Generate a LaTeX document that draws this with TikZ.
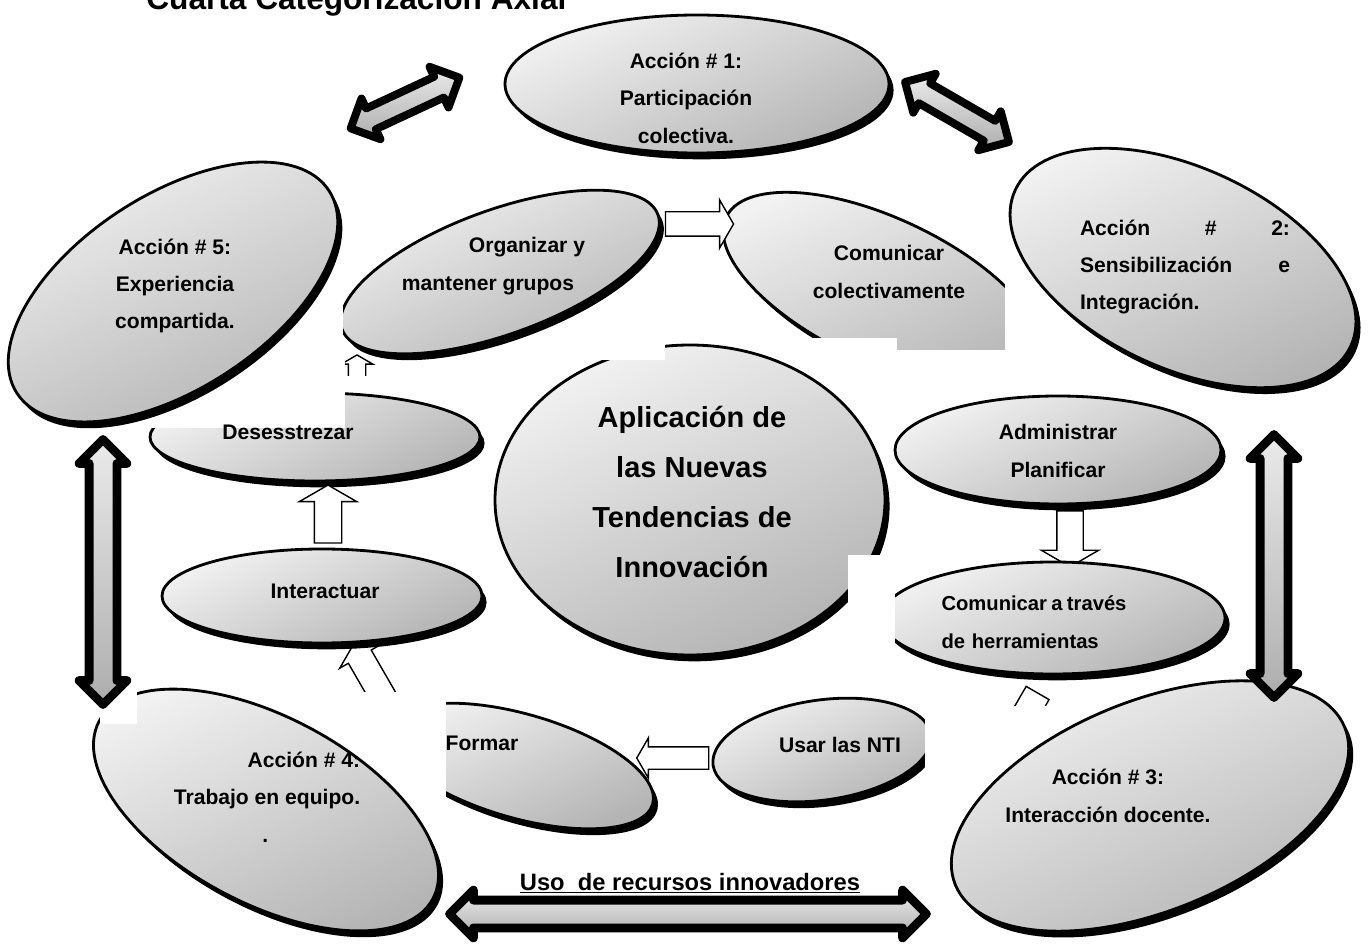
\documentclass[tikz,border=0pt]{standalone}
\usepackage{fontspec}
\setmainfont{Liberation Sans}
\usetikzlibrary{shapes.geometric,shapes.arrows,shadows}
\definecolor{lg}{HTML}{F2F2F2}
\definecolor{dg}{HTML}{B4B4B4}
\tikzset{
  oval/.style={ellipse, draw=black, line width=1.6pt, inner sep=0pt, outer sep=0pt,
    top color=lg, bottom color=dg, shading angle=25,
    drop shadow={shadow xshift=2.6pt, shadow yshift=-3.6pt, opacity=1, fill=black}},
  txt/.style={font=\bfseries\fontsize{12}{21.3}\selectfont, align=center, inner sep=0pt},
  bigtxt/.style={font=\bfseries\fontsize{16.5}{28.4}\selectfont, align=center, inner sep=0pt},
  harr/.style={single arrow, draw=black, fill=white, line width=0.8pt, inner xsep=0pt,
    outer sep=0pt, minimum width=0pt, single arrow tip angle=120},
  darr/.style={double arrow, draw=black, line width=5pt, line join=round, inner xsep=0pt,
    outer sep=0pt, minimum width=0pt, top color=black!8, bottom color=black!32},
  occl/.style={fill=white, draw=none}
}
\begin{document}
\begin{tikzpicture}[x=0.2mm,y=0.2mm]
\useasboundingbox (0,0) rectangle (1368,-944);

% title (cut by the top edge)
\node[anchor=base west, inner sep=0pt, font=\bfseries\fontsize{18}{20}\selectfont] (title) at (146,-10) {Cuarta Categorización Axial};

% Accion 1
\node[oval, minimum width=76.8mm, minimum height=27.6mm] (a1) at (697,-84) {};

% Comunicar colectivamente
\node[oval, minimum width=68.8mm, minimum height=28.8mm, rotate=-25] (cc) at (882,-290) {};
\path[occl] (665,-338) rectangle (897,-400);
\path[occl] (897,-350) rectangle (1005,-400);
\path[occl] (1005,-185) rectangle (1060,-400);

% central circle
\node[oval, minimum width=78mm, minimum height=62mm] (c) at (690,-500) {};
\path[occl] (486,-326) rectangle (665,-360);

% Organizar y mantener grupos
\node[oval, minimum width=67.2mm, minimum height=24.8mm, rotate=20] (og) at (500,-272) {};
\path[occl] (290,-186) rectangle (343,-362);

\node[harr, inner ysep=2.3mm, minimum height=13.6mm, single arrow head extend=2.4mm] (aoc) at (696,-224) {};

% Desesstrezar
\node[harr, inner ysep=1.6mm, minimum height=9mm, single arrow head extend=1.4mm, rotate=90] (ado) at (357,-380) {};
\path[occl] (338,-376) rectangle (378,-400);
\node[oval, minimum width=66mm, minimum height=17.6mm] (de) at (315,-437) {};
\path[occl] (135,-346) rectangle (345,-428);

% Accion 5
\node[oval, minimum width=74.4mm, minimum height=38.8mm, rotate=33] (a5) at (173,-292) {};

% Interactuar
\node[harr, inner ysep=2.5mm, minimum height=16mm, single arrow head extend=2mm, rotate=120] (afi) at (375,-683) {};
\node[oval, minimum width=64mm, minimum height=18.8mm] (in) at (322,-596) {};
\node[harr, inner ysep=2.6mm, minimum height=11.6mm, single arrow head extend=3mm, rotate=90] (aid) at (328,-518) {};

% Formar, Usar las NTI
\node[oval, minimum width=55.2mm, minimum height=20.8mm, rotate=-16] (fo) at (520,-766) {};
\node[oval, minimum width=44mm, minimum height=20mm, rotate=8] (nt) at (822,-750) {};
\node[harr, inner ysep=2.1mm, minimum height=14.4mm, single arrow head extend=1.8mm, rotate=180] (anf) at (676,-758) {};

% Administrar / Comunicar a traves
\node[oval, minimum width=65.2mm, minimum height=21.6mm] (ad) at (1058,-450) {};
\node[harr, inner ysep=2.5mm, minimum height=11.2mm, single arrow head extend=3.1mm, rotate=-90] (aac) at (1070,-535) {};
\node[harr, inner ysep=2.5mm, minimum height=14mm, single arrow head extend=2mm, rotate=-120] (acn) at (1022,-720) {};
\node[oval, minimum width=68.8mm, minimum height=22.4mm] (ct) at (1053,-618) {};
\path[occl] (848,-555) rectangle (895,-652);
\path[occl] (925,-706) rectangle (1065,-815);

% Accion 3, Accion 2
\node[oval, minimum width=84mm, minimum height=42mm, rotate=22] (a3) at (1150,-806) {};
\node[oval, minimum width=74mm, minimum height=40mm, rotate=-25] (a2) at (1183,-268) {};

% Accion 4
\path[occl] (100,-692) rectangle (446,-824);
\node[oval, minimum width=75.6mm, minimum height=37.2mm, rotate=-28] (a4) at (266,-810) {};
\path[occl] (100,-690) rectangle (137,-724);

% double arrows
\node[darr, line width=4.5pt, inner ysep=1.5mm, minimum height=24mm, double arrow head extend=2.2mm, rotate=25] (dtl) at (405,-103) {};
\node[darr, line width=4.5pt, inner ysep=1.5mm, minimum height=24mm, double arrow head extend=2.2mm, rotate=-30] (dtr) at (957,-112) {};
\node[darr, inner ysep=1.9mm, minimum height=53mm, double arrow head extend=2mm, rotate=90] (dl) at (103,-572) {};
\node[darr, inner ysep=1.9mm, minimum height=52.6mm, double arrow head extend=2mm, rotate=90] (dr) at (1274,-566) {};
\node[darr, inner ysep=1.9mm, minimum height=95.4mm, double arrow head extend=2mm] (db) at (688,-914) {};

% texts
\node[txt] (t1) at (686,-98) {Acción \# 1:\\Participación\\colectiva.};
\node[txt, text width=42mm, align=left] (t2) at (1185,-267) {Acción\hfill\#\hfill 2:\\Sensibilización\hfill e\\Integración.};
\node[txt] (t3) at (1108,-796) {Acción \# 3:\\Interacción docente.};
\node[txt, align=right] (t4) at (267,-797) {Acción \# 4:\\Trabajo en equipo.\\.\hspace*{18.4mm}};
\node[txt] (t5) at (175,-286) {Acción \# 5:\\Experiencia\\compartida.};
\node[txt] (tog) at (488,-266) {\hspace*{15.6mm}Organizar y\\mantener grupos};
\node[txt] (tcc) at (889,-272) {Comunicar\\colectivamente};
\node[bigtxt] (tc) at (692,-492) {Aplicación de\\las Nuevas\\Tendencias de\\Innovación};
\node[txt] (tde) at (288,-432) {Desesstrezar};
\node[txt] (tin) at (325,-591) {Interactuar};
\node[txt] (tad) at (1058,-451) {Administrar\\Planificar};
\node[txt, font=\bfseries\fontsize{11.5}{21.3}\selectfont, text width=37mm, align=left] (tct) at (1034,-622) {Comunicar\hfill a\hfill través\\de herramientas};
\node[txt] (tnt) at (840,-745) {Usar las NTI};
\node[txt] (tfo) at (482,-743) {Formar};
\node[anchor=base, inner sep=0pt, font=\bfseries\fontsize{13.5}{16}\selectfont] (tuso) at (690,-890) {\underline{Uso\ \ de recursos innovadores}};
\end{tikzpicture}
\end{document}
